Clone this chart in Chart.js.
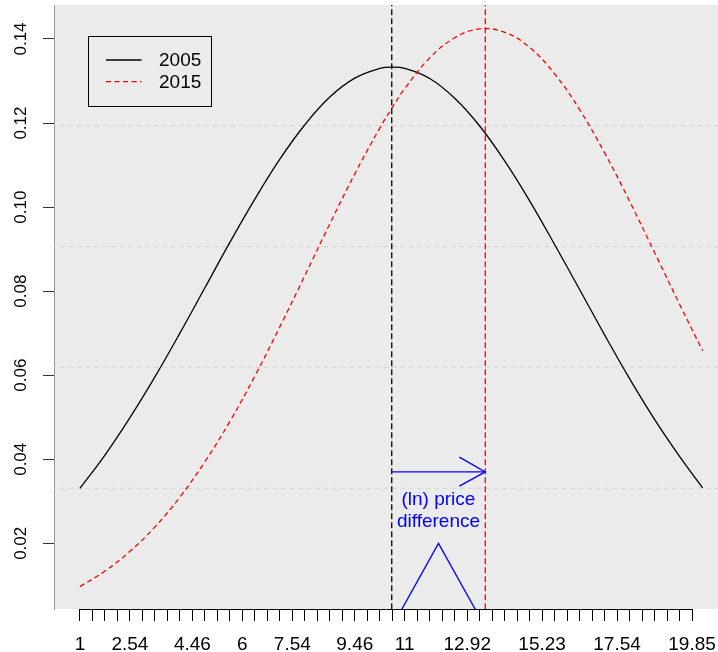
<!DOCTYPE html>
<html>
<head>
<meta charset="utf-8">
<script src="https://cdn.jsdelivr.net/npm/chart.js@4.4.0/dist/chart.umd.min.js"></script>
<style>
  html, body { margin: 0; padding: 0; background: #fff; }
  canvas { display: block; }
</style>
</head>
<body>
<canvas id="myChart" width="718" height="652"></canvas>
<script>
/* data (x is the tick position 0..49 of the bottom axis) */
var xs = [0, 2, 4, 6, 8, 10, 12, 14, 16, 18, 20, 22, 24, 25, 26, 28, 30, 32, 34, 36, 38, 40, 42, 44, 46, 48, 49.85];
var y2005 = [0.0331, 0.0410, 0.0499, 0.0596, 0.0700, 0.0808, 0.0916, 0.1019, 0.1114, 0.1196, 0.1262, 0.1307, 0.1330,
             0.1333, 0.1330, 0.1306, 0.1259, 0.1193, 0.1110, 0.1015, 0.0911, 0.0804, 0.0696, 0.0592, 0.0495, 0.0407, 0.0332];
var y2015 = [0.0097, 0.0134, 0.0181, 0.0239, 0.0310, 0.0394, 0.0490, 0.0598, 0.0715, 0.0837, 0.0960, 0.1079, 0.1188,
             0.1237, 0.1282, 0.1355, 0.1403, 0.1424, 0.1416, 0.1380, 0.1317, 0.1232, 0.1129, 0.1014, 0.0892, 0.0769, 0.0658];
var seriesNames = ['2005', '2015'];

var tickIndex = [0, 4, 9, 13, 17, 22, 26, 31, 37, 43, 49];
var tickLabels = ['1', '2.54', '4.46', '6', '7.54', '9.46', '11', '12.92', '15.23', '17.54', '19.85'];
var yTicks = [0.02, 0.04, 0.06, 0.08, 0.10, 0.12, 0.14];
var gridY = [0.0331, 0.0619, 0.0906, 0.1194];

var peak2005 = 24.96;
var peak2015 = 32.45;
var arrowY = 0.0370;
var arrowHead = [[30.37, 0.0405], [32.45, 0.0370], [30.37, 0.0336]];
var wedge = [[24.96, 0], [28.7, 0.02], [32.45, 0]];
var noteX = 28.7;
var noteLines = ['(ln) price', 'difference'];
var noteY = [0.0304, 0.0252];

var FONT = "'Liberation Sans', Arial, Helvetica, sans-serif";
Chart.defaults.font.family = FONT;
Chart.defaults.color = '#000';

function pts(xv, yv) {
  return xv.map(function(x, i) { return {x: x, y: yv[i]}; });
}

var datasets = [];
gridY.forEach(function(g) {
  datasets.push({
    data: [{x: -5, y: g}, {x: 55, y: g}],
    borderColor: '#d3d3d3', borderWidth: 1, borderDash: [5, 3.5],
    pointRadius: 0, tension: 0, order: 10
  });
});
datasets.push({
  label: seriesNames[0], data: pts(xs, y2005),
  borderColor: '#000', borderWidth: 1.3, pointRadius: 0, tension: 0.4, order: 5
});
datasets.push({
  label: seriesNames[1], data: pts(xs, y2015),
  borderColor: '#ff0000', borderWidth: 1.3, borderDash: [5, 3.5], pointRadius: 0, tension: 0.4, order: 4
});
datasets.push({
  data: [{x: peak2005, y: 0}, {x: peak2005, y: 0.2}],
  borderColor: '#000', borderWidth: 1.3, borderDash: [6, 3], pointRadius: 0, order: 3
});
datasets.push({
  data: [{x: peak2015, y: 0}, {x: peak2015, y: 0.2}],
  borderColor: '#ff0000', borderWidth: 1.3, borderDash: [6, 3], pointRadius: 0, order: 3
});
datasets.push({
  data: [{x: peak2005, y: arrowY}, {x: peak2015, y: arrowY}],
  borderColor: '#0000ff', borderWidth: 1.3, pointRadius: 0, order: 2
});
datasets.push({
  data: arrowHead.map(function(p) { return {x: p[0], y: p[1]}; }),
  borderColor: '#0000ff', borderWidth: 1.3, pointRadius: 0, order: 2
});
datasets.push({
  data: wedge.map(function(p) { return {x: p[0], y: p[1]}; }),
  borderColor: '#0000ff', borderWidth: 1.3, pointRadius: 0, order: 2
});

var extras = {
  id: 'extras',
  beforeDraw: function(chart) {
    var a = chart.chartArea, ctx = chart.ctx;
    ctx.save();
    ctx.fillStyle = '#ebebeb';
    ctx.fillRect(a.left, a.top, a.right - a.left, a.bottom - a.top);
    ctx.restore();
  },
  afterDraw: function(chart) {
    var a = chart.chartArea, ctx = chart.ctx;
    var xs_ = chart.scales.x, ys_ = chart.scales.y;
    ctx.save();
    // bottom axis line, first tick to last tick
    ctx.strokeStyle = '#000';
    ctx.lineWidth = 1;
    ctx.beginPath();
    ctx.moveTo(Math.round(xs_.getPixelForValue(0)), a.bottom + 0.5);
    ctx.lineTo(Math.round(xs_.getPixelForValue(49)) + 1, a.bottom + 0.5);
    ctx.stroke();

    // annotation text
    ctx.fillStyle = '#0000ff';
    ctx.font = '19px ' + FONT;
    ctx.textAlign = 'center';
    ctx.textBaseline = 'middle';
    noteLines.forEach(function(t, i) {
      ctx.fillText(t, xs_.getPixelForValue(noteX), ys_.getPixelForValue(noteY[i]));
    });

    // legend
    var bx = a.left + 34.5, by = a.top + 31.5;
    ctx.strokeStyle = '#000';
    ctx.lineWidth = 1;
    ctx.strokeRect(bx, by, 123, 70);
    var ds = [chart.data.datasets[gridY.length], chart.data.datasets[gridY.length + 1]];
    ds.forEach(function(d, i) {
      var ly = by + 23.5 + i * 21.7;
      ctx.strokeStyle = d.borderColor;
      ctx.lineWidth = 1.3;
      ctx.setLineDash(d.borderDash || []);
      ctx.beginPath();
      ctx.moveTo(bx + 17.5, ly);
      ctx.lineTo(bx + 53, ly);
      ctx.stroke();
      ctx.setLineDash([]);
      ctx.fillStyle = '#000';
      ctx.font = '19px ' + FONT;
      ctx.textAlign = 'left';
      ctx.textBaseline = 'middle';
      ctx.fillText(d.label, bx + 70.5, ly + 1);
    });
    ctx.restore();
  }
};

var ctx = document.getElementById('myChart').getContext('2d');
var myChart = new Chart(ctx, {
  type: 'line',
  data: { datasets: datasets },
  options: {
    responsive: false,
    animation: false,
    layout: { padding: { top: 5, right: 0, left: 0, bottom: 0 } },
    plugins: { legend: { display: false }, tooltip: { enabled: false } },
    scales: {
      x: {
        type: 'linear',
        min: -2.08,
        max: 51.08,
        afterBuildTicks: function(scale) {
          var t = [];
          for (var i = 0; i <= 49; i++) t.push({value: i});
          scale.ticks = t;
        },
        afterFit: function(scale) {
          scale.height = 43;
          scale.paddingLeft = 0;
          scale.paddingRight = 0;
        },
        grid: { drawOnChartArea: false, drawTicks: true, tickLength: 12, tickColor: '#000', tickWidth: 1 },
        border: { display: false },
        ticks: {
          autoSkip: false, maxRotation: 0, minRotation: 0, padding: 12.6,
          font: { size: 19 },
          callback: function(v) {
            var k = tickIndex.indexOf(v);
            return k >= 0 ? tickLabels[k] : '';
          }
        }
      },
      y: {
        min: 0.00437,
        max: 0.14809,
        afterBuildTicks: function(scale) {
          scale.ticks = yTicks.map(function(v) { return {value: v}; });
        },
        afterFit: function(scale) {
          scale.width = 54;
          scale.paddingTop = 0;
          scale.paddingBottom = 0;
        },
        grid: { drawOnChartArea: false, drawTicks: true, tickLength: 11, tickColor: '#333', tickWidth: 1 },
        border: { display: true, color: '#999', width: 1 },
        ticks: {
          minRotation: 90, maxRotation: 90, crossAlign: 'center', padding: 5.5,
          font: { size: 17 },
          callback: function(v) { return v.toFixed(2); }
        }
      }
    }
  },
  plugins: [extras]
});
</script>
</body>
</html>
